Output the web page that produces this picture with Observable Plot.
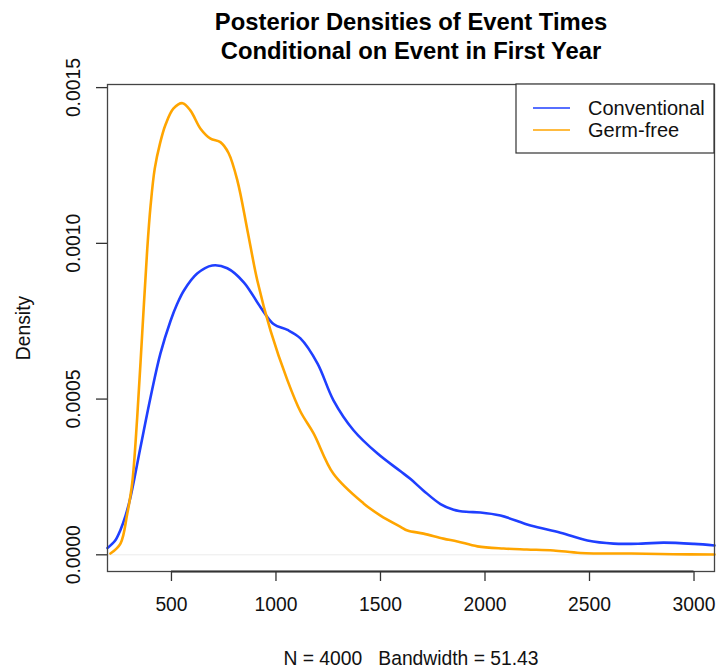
<!DOCTYPE html>
<html>
<head>
<meta charset="utf-8">
<script src="https://cdn.jsdelivr.net/npm/d3@7"></script>
<script src="https://cdn.jsdelivr.net/npm/@observablehq/plot@0.6"></script>
<style>
  html, body { margin: 0; padding: 0; background: #fff; }
  #chart { width: 716px; height: 670px; }
  svg text { font-family: "Liberation Sans", Arial, Helvetica, sans-serif; }
</style>
</head>
<body>
<div id="chart"></div>
<script>
// ---- data ----
const titleLines = ["Posterior Densities of Event Times", "Conditional on Event in First Year"];
const xLabel = "N = 4000   Bandwidth = 51.43";
const yLabel = "Density";
const seriesNames = ["Conventional", "Germ-free"];
const seriesColors = ["#1f3fff", "#ffa500"];
const xTicks = [500, 1000, 1500, 2000, 2500, 3000];
const yTicks = [0, 0.0005, 0.0010, 0.0015];
const yTickLabels = ["0.0000", "0.0005", "0.0010", "0.0015"];

const conventionalX = [194, 230, 256, 280, 304, 352, 400, 447, 495, 527, 559, 623, 695, 767, 846, 926, 990, 1055, 1117, 1199, 1275, 1371, 1486, 1596, 1644, 1706, 1787, 1850, 1910, 1978, 2074, 2218, 2361, 2490, 2615, 2750, 2854, 3000, 3098];
const conventionalY = [0.000022, 0.000045, 0.00008, 0.000125, 0.000185, 0.000346, 0.000506, 0.000646, 0.00075, 0.000805, 0.000848, 0.000903, 0.000929, 0.00092, 0.000875, 0.000795, 0.00074, 0.000722, 0.000695, 0.000614, 0.000496, 0.0004, 0.000325, 0.000268, 0.000243, 0.000206, 0.000163, 0.000145, 0.000138, 0.000136, 0.000126, 0.000094, 0.000071, 0.000046, 0.000036, 0.000036, 0.000039, 0.000035, 0.00003];

const germFreeX = [208, 256, 288, 312, 336, 360, 384, 400, 420, 445, 471, 510, 553, 591, 639, 687, 734, 773, 816, 864, 911, 974, 1055, 1117, 1180, 1275, 1419, 1500, 1596, 1629, 1706, 1801, 1868, 1964, 2089, 2200, 2328, 2457, 2700, 2900, 3098];
const germFreeY = [0.000004, 0.000036, 0.00013, 0.000229, 0.00044, 0.00071, 0.00098, 0.00112, 0.00124, 0.00132, 0.00138, 0.001433, 0.00145, 0.001426, 0.001368, 0.001336, 0.001325, 0.00129, 0.0012, 0.00104, 0.00088, 0.00072, 0.00056, 0.00046, 0.00039, 0.00026, 0.000165, 0.000126, 0.00009, 0.000078, 0.000068, 0.000052, 0.000043, 0.000027, 0.00002, 0.000017, 0.000014, 0.000006, 0.000004, 0.000002, 0.000001];

// ---- build table ----
const rows = [
  ...conventionalX.map((x, i) => ({series: seriesNames[0], x, y: conventionalY[i]})),
  ...germFreeX.map((x, i) => ({series: seriesNames[1], x, y: germFreeY[i]}))
];

const W = 716, H = 670;
const mL = 107, mR = 2, mT = 84, mB = 99;
const yDomain = [-0.0000536, 0.00151];
const font = '"Liberation Sans", Arial, Helvetica, sans-serif';
const fs = 19.3;

const plot = Plot.plot({
  width: W,
  height: H,
  marginLeft: mL,
  marginRight: mR,
  marginTop: mT,
  marginBottom: mB,
  style: {fontFamily: font, background: "#fff", overflow: "visible"},
  x: {domain: [194, 3098]},
  y: {domain: yDomain},
  color: {domain: seriesNames, range: seriesColors},
  marks: [
    Plot.ruleY([0], {stroke: "#ececec", strokeWidth: 1}),
    Plot.line(rows, {x: "x", y: "y", z: "series", stroke: "series", strokeWidth: 2.6, curve: "catmull-rom"}),
    Plot.frame({stroke: "#444", strokeWidth: 1.3}),
    // x axis line (R style, from first to last tick)
    Plot.ruleY([yDomain[0]], {x1: () => xTicks[0], x2: () => xTicks[xTicks.length - 1], stroke: "#333", strokeWidth: 1.8}),
    Plot.axisX({ticks: xTicks, tickSize: 10, tickPadding: 16, tickFormat: d => String(d), fontSize: fs, stroke: "#333", strokeWidth: 1.3, label: null, fill: "#111"}),
    // y axis (R style)
    Plot.axisY({ticks: yTicks, tickSize: 11, tickFormat: () => "", stroke: "#333", strokeWidth: 1.3, label: null}),
    Plot.text(yTicks, {y: d => d, text: (d, i) => yTickLabels[i], frameAnchor: "left", textAnchor: "middle", dx: -34, rotate: -90, fontSize: fs, fill: "#111"}),
    // labels and title
    Plot.text([yLabel], {frameAnchor: "left", textAnchor: "middle", dx: -84, rotate: -90, fontSize: fs, fill: "#111"}),
    Plot.text([xLabel], {frameAnchor: "bottom", lineAnchor: "middle", dy: 87, fontSize: fs, fill: "#111"}),
    Plot.text([titleLines.join("\n")], {frameAnchor: "top", lineAnchor: "middle", dy: -49, fontSize: 23.8, fontWeight: "bold", lineHeight: 1.18, fill: "#000"})
  ]
});

// legend (R legend box, top-right)
const svg = d3.select(plot);
const lx = 516;
const lg = svg.append("g").attr("transform", `translate(${lx},${mT})`);
lg.append("rect").attr("x", 0).attr("y", 0).attr("width", W - mR - lx).attr("height", 69)
  .attr("fill", "#fff").attr("stroke", "#333").attr("stroke-width", 1.2);
seriesNames.forEach((name, i) => {
  const yy = 24 + i * 22;
  lg.append("line").attr("x1", 17).attr("x2", 54).attr("y1", yy).attr("y2", yy)
    .attr("stroke", seriesColors[i]).attr("stroke-width", 1.6);
  lg.append("text").attr("x", 72).attr("y", yy).attr("dy", "0.36em")
    .attr("text-anchor", "start")
    .attr("font-size", 20).attr("fill", "#111").style("font-family", font).text(name);
});

document.getElementById("chart").appendChild(plot);
</script>
</body>
</html>
